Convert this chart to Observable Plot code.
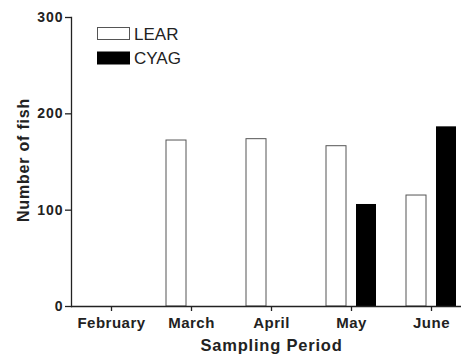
<!DOCTYPE html>
<html><head><meta charset="utf-8">
<script src="https://cdn.jsdelivr.net/npm/d3@7"></script>
<script src="https://cdn.jsdelivr.net/npm/@observablehq/plot@0.6"></script>
<style>
html,body{margin:0;padding:0;background:#fff;overflow:hidden;}
#chart svg{overflow:hidden;display:block;}
</style></head><body><div id="chart"></div>
<script>
const months = ["February", "March", "April", "May", "June"];
const series = ["LEAR", "CYAG"];
const learValues = [0, 172.3, 173.7, 166.4, 115.2];
const cyagValues = [0, 0, 0, 105.9, 186.5];
const yTicks = [0, 100, 200, 300];
const yLabel = "Number of fish";
const xLabel = "Sampling Period";

const lear = months.map((m, i) => ({month: m, value: learValues[i]}));
const cyag = months.map((m, i) => ({month: m, value: cyagValues[i]}));
const font = "'Liberation Sans', Arial, Helvetica, sans-serif";

const plot = Plot.plot({
  width: 461, height: 356,
  marginLeft: 71, marginRight: -10, marginTop: 17, marginBottom: 50,
  style: {fontFamily: font, background: "#fff", color: "#222", overflow: "hidden"},
  x: {domain: months, paddingInner: 0.75, paddingOuter: 0.375, align: 0.5, label: null},
  y: {domain: [0, 300], label: null},
  marks: [
    Plot.barY(lear, {x: "month", y: "value", dx: -15, fill: "white", stroke: "#555", strokeWidth: 1}),
    Plot.barY(cyag, {x: "month", y: "value", dx: 15, fill: "black"}),
    Plot.ruleY([0], {stroke: "#222", strokeWidth: 1.3}),
    Plot.frame({anchor: "left", stroke: "#222", strokeWidth: 1.3}),
    Plot.axisY({ticks: yTicks, tickSize: 6, tickPadding: 2, fontSize: 14, fontWeight: "bold", label: null, stroke: "#222", strokeWidth: 1.3}),
    Plot.axisX({tickSize: 5, tickPadding: 6, fontSize: 15, fontWeight: "bold", label: null, stroke: "#222", strokeWidth: 1.3}),
    Plot.text([yLabel], {text: d => d, frameAnchor: "left", textAnchor: "middle", lineAnchor: "middle", dx: -48, dy: -2, rotate: -90, fontSize: 16, fontWeight: "bold", fill: "#222"}),
    Plot.text([xLabel], {text: d => d, frameAnchor: "bottom", textAnchor: "middle", dy: 44, fontSize: 16.5, fontWeight: "bold", fill: "#222"})
  ]
});

const svg = d3.select(plot);
svg.selectAll('g[aria-label="y-axis tick label"]').attr("letter-spacing", "1");
svg.selectAll('g[aria-label="x-axis tick label"]').attr("letter-spacing", "0.5");
svg.selectAll('g[aria-label="text"]').attr("letter-spacing", "0.8");

const fills = ["white", "black"];
const strokes = ["#555", "black"];
const lg = svg.append("g").attr("font-family", font).attr("text-anchor", "start");
series.forEach((s, i) => {
  lg.append("rect").attr("x", 97.5).attr("y", 27.5 + i * 24.5).attr("width", 32).attr("height", 12)
    .attr("fill", fills[i]).attr("stroke", strokes[i]).attr("stroke-width", 1);
  lg.append("text").attr("x", 134).attr("y", 39.5 + i * 24.5).attr("font-size", 17).attr("fill", "#222").text(s);
});

document.getElementById("chart").appendChild(plot);
</script></body></html>
